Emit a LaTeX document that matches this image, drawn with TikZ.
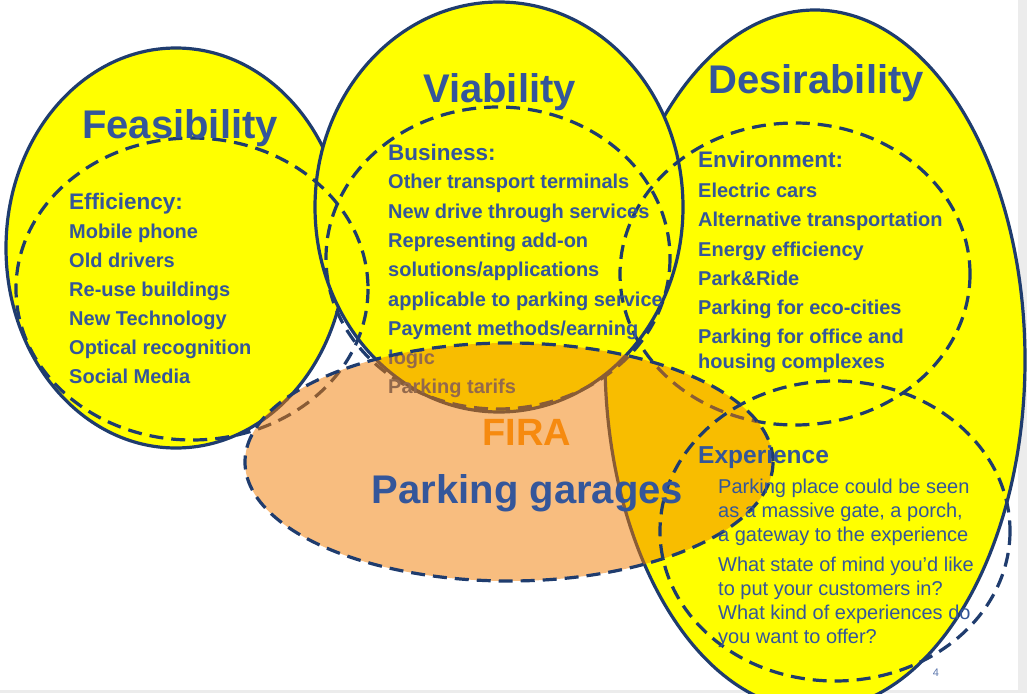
\documentclass[tikz,border=0pt]{standalone}
\usepackage{fontspec}
\setmainfont{Liberation Sans}
\definecolor{navy}{HTML}{1F3C6E}
\definecolor{txtblue}{HTML}{34569A}
\definecolor{yel}{HTML}{FFFF00}
\definecolor{orfill}{HTML}{F37D00}
\definecolor{firaor}{HTML}{F68A0F}
\definecolor{slidegray}{HTML}{ECECEC}
\tikzset{
  bigset/.style={fill=yel, draw=navy, line width=3.2pt},
  subset/.style={draw=navy, line width=3.2pt, dash pattern=on 14pt off 8pt},
  title/.style={anchor=base west, inner sep=0pt, text=txtblue, font=\bfseries\fontsize{40}{44}\selectfont},
  head/.style={anchor=base west, inner sep=0pt, text=txtblue, font=\bfseries\fontsize{22.5}{26}\selectfont},
  item/.style={anchor=base west, inner sep=0pt, text=txtblue, font=\bfseries\fontsize{20}{24}\selectfont},
  plain/.style={anchor=base west, inner sep=0pt, text=txtblue, font=\fontsize{20}{24}\selectfont},
}
\begin{document}
\begin{tikzpicture}[x=1pt,y=-1pt]
\useasboundingbox (0,0) rectangle (1027,693);
\fill[white] (0,0) rectangle (1027,693);
\fill[slidegray] (1018,0) rectangle (1027,693);
\fill[slidegray] (0,690) rectangle (1027,693);
\begin{scope}
\clip (0,0) rectangle (1027,693);
% big sets
\draw[bigset] (176,248) ellipse [x radius=170, y radius=200];
\draw[bigset] (815,360) ellipse [x radius=210, y radius=350];
\draw[bigset] (499,207) ellipse [x radius=184, y radius=205];
% dashed subsets under the orange set
\draw[subset] (192,289) ellipse [x radius=176, y radius=151];
\draw[subset] (498,258) ellipse [x radius=172, y radius=151];
\draw[subset] (795,274) ellipse [x radius=175, y radius=151];
\end{scope}
% titles
\node[title] (tfeas) at (82,138) {Feasibility};
\node[title] (tvia) at (423,102) {Viability};
\node[title] (tdes) at (708,93) {Desirability};
% Feasibility list
\node[head] (hfeas) at (69,209) {Efficiency:};
\foreach \t [count=\i] in {Mobile phone, Old drivers, Re-use buildings, New Technology, Optical recognition, Social Media}
  \node[item] (fe\i) at (69,{209+29*\i}) {\t};
% Viability list
\node[head] (hvia) at (388,160) {Business:};
\foreach \t [count=\i] in {Other transport terminals, New drive through services, Representing add-on, solutions/applications, applicable to parking service, Payment methods/earning, logic, Parking tarifs}
  \node[item] (vi\i) at (388,{159.5+29.3*\i}) {\t};
% Desirability list
\node[head] (hdes) at (698,167) {Environment:};
\foreach \t [count=\i] in {Electric cars, Alternative transportation, Energy efficiency, Park\&Ride, Parking for eco-cities, Parking for office and}
  \node[item] (de\i) at (698,{168.5+29.2*\i}) {\t};
\node[item] (de7) at (698,368) {housing complexes};
% orange set
\fill[orfill, fill opacity=0.5] (509,462) ellipse [x radius=264, y radius=119];
\draw[subset] (509,462) ellipse [x radius=264, y radius=119];
% Experience subset
\draw[subset] (835,531) ellipse [x radius=175, y radius=150];
\node[head, font=\bfseries\fontsize{24.5}{28}\selectfont] (hexp) at (698,463) {Experience};
\node[plain] (ex1) at (718,493) {Parking place could be seen};
\node[plain] (ex2) at (718,517) {as a massive gate, a porch,};
\node[plain] (ex3) at (718,541) {a gateway to the experience};
\node[plain] (ex4) at (718,571) {What state of mind you’d like};
\node[plain] (ex5) at (718,595) {to put your customers in?};
\node[plain] (ex6) at (718,619) {What kind of experiences do};
\node[plain] (ex7) at (718,643) {you want to offer?};
% centre labels
\node[anchor=base, inner sep=0pt, text=firaor, font=\bfseries\fontsize{38}{42}\selectfont] (fira) at (527,445) {FIRA};
\node[anchor=base, inner sep=0pt, text=txtblue, font=\bfseries\fontsize{40}{44}\selectfont] (pg) at (527.5,503) {Parking garages};
% page number
\node[anchor=base, inner sep=0pt, text=txtblue!80, font=\fontsize{11}{13}\selectfont] (pnum) at (936,676) {4};
\end{tikzpicture}
\end{document}
